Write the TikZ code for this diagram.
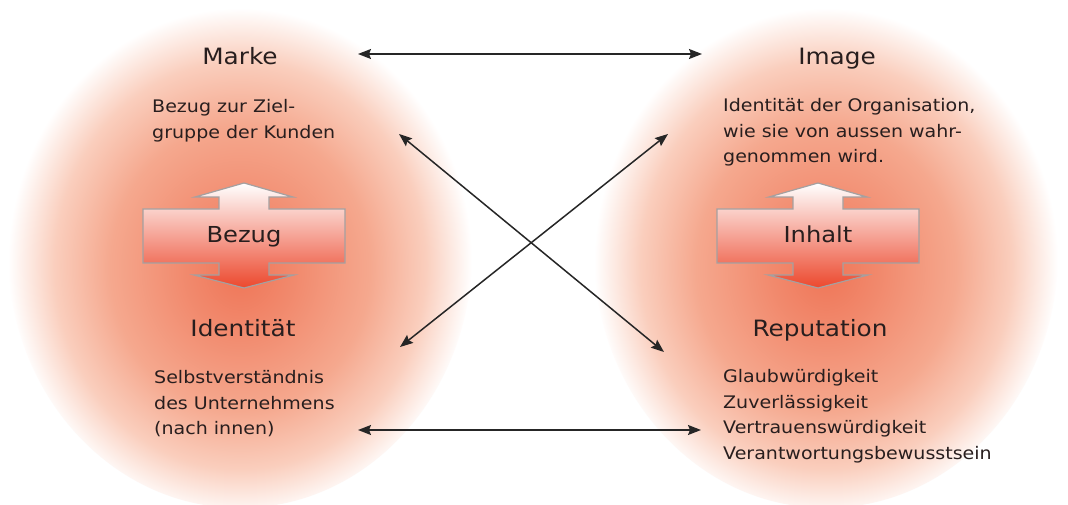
\documentclass[tikz,border=0pt]{standalone}
\usepackage{fontspec}
\setmainfont{DejaVu Sans}[FakeStretch=1.1]
\usepackage{tikz}
\usetikzlibrary{arrows.meta}
\usepackage{xcolor}
\definecolor{txtgrey}{RGB}{40,30,30}
\definecolor{glowin}{RGB}{239,118,88}
\definecolor{glowmid}{RGB}{245,168,142}
\definecolor{glowout}{RGB}{250,206,189}
\definecolor{blockred}{RGB}{236,72,45}
\definecolor{blockmid}{RGB}{254,232,224}
\definecolor{blockline}{RGB}{165,160,160}
\pgfdeclareradialshading{glow}{\pgfpoint{0bp}{-2bp}}{color(0bp)=(glowin); color(6bp)=(glowin!60!glowmid); color(14bp)=(glowmid); color(20bp)=(glowout); color(23bp)=(glowout!40!white); color(25bp)=(white); color(50bp)=(white)}

\begin{document}
\begin{tikzpicture}[x=1pt,y=1pt]
				    \tikzstyle{title}=[anchor=base,inner sep=0,text=txtgrey,font=\fontsize{22.5}{27}\selectfont]
				    \tikzstyle{note}=[anchor=north west,inner sep=0,align=left,text=txtgrey,font=\fontsize{17.3}{25.8}\selectfont]
				    \tikzstyle{blocklabel}=[anchor=base,inner sep=0,text=txtgrey,font=\fontsize{22}{26}\selectfont]
				    \tikzstyle{block}=[draw=blockline,line width=1.2pt,top color=white,middle color=blockmid,bottom color=blockred]
				    \tikzstyle{link}=[draw=black!85,line width=1.5pt,{Stealth[length=13pt,width=10pt,inset=2pt]}-{Stealth[length=13pt,width=10pt,inset=2pt]}]
				    \fill[white] (0,0) rectangle (1068,504);
				    \useasboundingbox (0,0) rectangle (1068,504);
				    \shade[shading=glow] (240,251) ellipse [x radius=232,y radius=255];
				    \shade[shading=glow] (826,251) ellipse [x radius=232,y radius=255];
				    \foreach \cx/\lab/\nm in {244/Bezug/bez, 818/Inhalt/inh} {
				      \begin{scope}[shift={(\cx,0)}]
				        \shade[block] (0,321) -- (49,307) -- (25,307) -- (25,295) -- (101,295) -- (101,241)
				          -- (25,241) -- (25,229) -- (50,229) -- (0,216) -- (-50,229) -- (-25,229) -- (-25,241)
				          -- (-101,241) -- (-101,295) -- (-25,295) -- (-25,307) -- (-49,307) -- cycle;
				        \node[blocklabel] (\nm) at (0,261) {\lab};
				      \end{scope}
				    }
				    \node[title] (mk) at (240,439) {Marke};
				    \node[title] (img) at (837,439) {Image};
				    \node[title] (idt) at (243,168) {Identität};
				    \node[title] (rep) at (820,168) {Reputation};
				    \node[note] (mktxt) at (152,405) {Bezug zur Ziel-\\gruppe der Kunden};
				    \node[note] (imgtxt) at (723,406) {Identität der Organisation,\\wie sie von aussen wahr-\\genommen wird.};
				    \node[note] (idttxt) at (154,134) {Selbstverständnis\\des Unternehmens\\(nach innen)};
				    \node[note] (reptxt) at (723,135) {Glaubwürdigkeit\\Zuverlässigkeit\\Vertrauenswürdigkeit\\Verantwortungsbewusstsein};
				    \coordinate (mkr) at (358,450);
				    \coordinate (imgl) at (702,450);
				    \coordinate (idtr) at (358,74);
				    \coordinate (repl) at (701,74);
				    \coordinate (mkd) at (399,370);
				    \coordinate (repu) at (664,152);
				    \coordinate (idtu) at (400,157);
				    \coordinate (imgd) at (668,370);
				    \draw[link] (mkr) -- (imgl);
				    \draw[link] (idtr) -- (repl);
				    \draw[link] (mkd) -- (repu);
				    \draw[link] (idtu) -- (imgd);
				\end{tikzpicture}
\end{document}
